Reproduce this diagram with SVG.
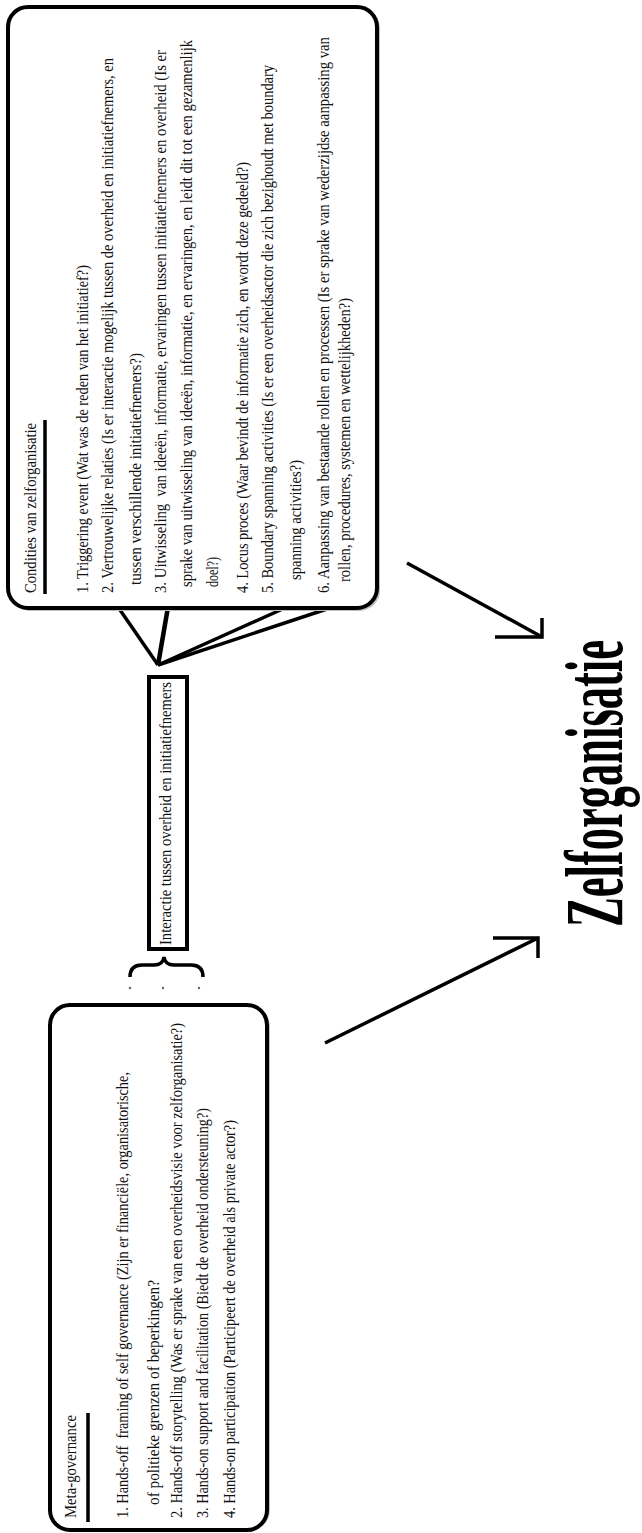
<svg xmlns="http://www.w3.org/2000/svg" width="642" height="1533" viewBox="0 0 642 1533">
<style>
.box{fill:#fff;stroke:#000;stroke-width:4}
.shadow{fill:none;stroke:#bdbdbd;stroke-width:2}
.t{font-family:"Liberation Serif","Times New Roman",serif;font-size:17px;fill:#111}
.big{font-family:"Liberation Serif","Times New Roman",serif;font-size:83px;font-weight:bold;fill:#000}
.ln{fill:none;stroke:#000;stroke-width:3.5;stroke-linecap:butt}
.ul{stroke:#000;stroke-width:3.5}
</style>
<rect width="642" height="1533" fill="#fff"/>
<g id="connectors">
  <line class="ln" x1="158" y1="665" x2="118" y2="607"/>
  <line class="ln" x1="158" y1="665" x2="168" y2="607" style="stroke-width:4.5"/>
  <line class="ln" x1="158" y1="665" x2="287" y2="607"/>
  <line class="ln" x1="158" y1="665" x2="333" y2="607"/>
  <polyline class="ln" points="407,563 542,637"/>
  <polyline class="ln" points="495,637 542,637 542,618"/>
  <polyline class="ln" points="325,1043 538,938"/>
  <polyline class="ln" points="493,938 538,938 538,958"/>
</g>
<g id="node-conditions">
  <rect class="shadow" x="10" y="9" width="369" height="601" rx="20"/>
  <rect class="box" x="8" y="7" width="369" height="601" rx="20"/>
  <line class="ul" x1="45" y1="420" x2="45" y2="594"/>
  <g transform="rotate(-90)">
    <text class="t" x="-593" y="36" textLength="170" lengthAdjust="spacingAndGlyphs">Condities van zelforganisatie</text>
    <text class="t" x="-593" y="88" textLength="328" lengthAdjust="spacingAndGlyphs">1. Triggering event (Wat was de reden van het initiatief?)</text>
    <text class="t" x="-593" y="113" textLength="535" lengthAdjust="spacingAndGlyphs">2. Vertrouwelijke relaties (Is er interactie mogelijk tussen de overheid en initiatiefnemers, en</text>
    <text class="t" x="-585" y="141" textLength="232" lengthAdjust="spacingAndGlyphs">tussen verschillende initiatiefnemers?)</text>
    <text class="t" x="-593" y="166" textLength="543" lengthAdjust="spacingAndGlyphs" xml:space="preserve">3. Uitwisseling  van ideeën, informatie, ervaringen tussen initiatiefnemers en overheid (Is er</text>
    <text class="t" x="-587" y="192" textLength="547" lengthAdjust="spacingAndGlyphs">sprake van uitwisseling van ideeën, informatie, en ervaringen, en leidt dit tot een gezamenlijk</text>
    <text class="t" x="-587" y="218" textLength="30" lengthAdjust="spacingAndGlyphs">doel?)</text>
    <text class="t" x="-593" y="248" textLength="431" lengthAdjust="spacingAndGlyphs">4. Locus proces (Waar bevindt de informatie zich, en wordt deze gedeeld?)</text>
    <text class="t" x="-593" y="273" textLength="528" lengthAdjust="spacingAndGlyphs">5. Boundary spanning activities (Is er een overheidsactor die zich bezighoudt met boundary</text>
    <text class="t" x="-580" y="301" textLength="120" lengthAdjust="spacingAndGlyphs">spanning activities?)</text>
    <text class="t" x="-593" y="329" textLength="556" lengthAdjust="spacingAndGlyphs">6. Aanpassing van bestaande rollen en processen (Is er sprake van wederzijdse aanpassing van</text>
    <text class="t" x="-582" y="350" textLength="284" lengthAdjust="spacingAndGlyphs">rollen, procedures, systemen en wettelijkheden?)</text>
  </g>
</g>
<g id="node-interaction">
  <rect x="149" y="677" width="38" height="272" fill="#fff" stroke="#000" stroke-width="4"/>
  <g transform="rotate(-90)">
    <text class="t" x="-945" y="171" textLength="263" lengthAdjust="spacingAndGlyphs">Interactie tussen overheid en initiatiefnemers</text>
  </g>
</g>
<g id="brace">
  <path d="M130,977 Q130,965 142,965 L154,965 Q163,965 164,957 Q165,965 174,965 L191,965 Q203,965 203,977" fill="none" stroke="#000" stroke-width="3.5"/>
  <circle cx="130" cy="988" r="1.2" fill="#666"/>
  <circle cx="163" cy="988" r="1.2" fill="#666"/>
  <circle cx="199" cy="988" r="1.2" fill="#666"/>
</g>
<g id="node-metagovernance">
  <rect class="shadow" x="52" y="1007" width="217" height="523" rx="20"/>
  <rect class="box" x="50" y="1005" width="217" height="525" rx="20"/>
  <line class="ul" x1="88" y1="1413" x2="88" y2="1522"/>
  <g transform="rotate(-90)">
    <text class="t" x="-1518" y="76" textLength="103" lengthAdjust="spacingAndGlyphs">Meta-governance</text>
    <text class="t" x="-1518" y="128" textLength="446" lengthAdjust="spacingAndGlyphs" xml:space="preserve">1. Hands-off  framing of self governance (Zijn er financiële, organisatorische,</text>
    <text class="t" x="-1505" y="159" textLength="225" lengthAdjust="spacingAndGlyphs">of politieke grenzen of beperkingen?</text>
    <text class="t" x="-1518" y="182" textLength="495" lengthAdjust="spacingAndGlyphs">2. Hands-off storytelling (Was er sprake van een overheidsvisie voor zelforganisatie?)</text>
    <text class="t" x="-1518" y="208" textLength="410" lengthAdjust="spacingAndGlyphs">3. Hands-on support and facilitation (Biedt de overheid ondersteuning?)</text>
    <text class="t" x="-1518" y="235" textLength="398" lengthAdjust="spacingAndGlyphs">4. Hands-on participation (Participeert de overheid als private actor?)</text>
  </g>
</g>
<g id="node-zelforganisatie">
  <g transform="rotate(-90)">
    <text class="big" x="-927" y="622" textLength="287" lengthAdjust="spacingAndGlyphs">Zelforganisatie</text>
  </g>
</g>
</svg>
